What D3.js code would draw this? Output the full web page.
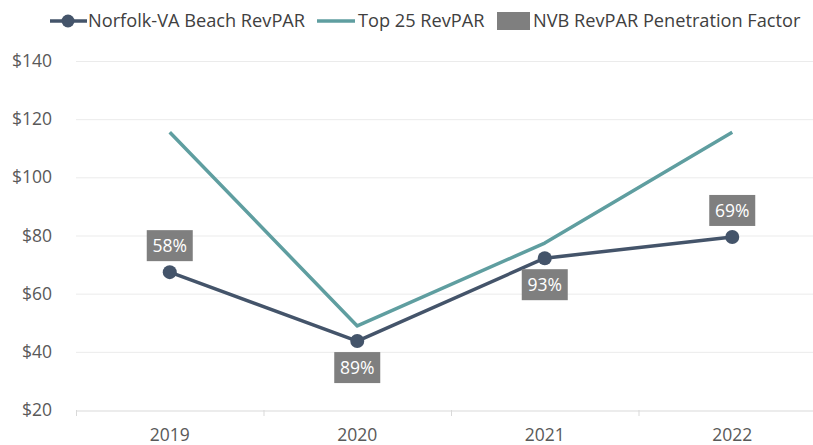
<!DOCTYPE html>
<html><head><meta charset="utf-8">
<script src="https://cdn.jsdelivr.net/npm/d3@7"></script>
<style>body{margin:0;background:#fff}svg{display:block}text{font-family:"Open Sans",sans-serif}</style>
</head><body><svg id="c" width="813" height="445"></svg>
<script>
const years = ["2019","2020","2021","2022"];
const norfolk = [67.4, 43.7, 72.2, 79.5];
const top25 = [115.5, 48.9, 77.4, 115.5];
const penetration = ["58%","89%","93%","69%"];
const labelPos = ["above","below","below","above"];
const yTicks = [20,40,60,80,100,120,140];

const svg = d3.select("#c");
const x = d3.scaleBand().domain(years).range([76, 826]);
const y = d3.scaleLinear().domain([20,140]).range([410, 61]);
const cx = d => x(d) + x.bandwidth()/2;

// grid
svg.append("g").selectAll("line").data(yTicks.filter(t=>t>20)).join("line")
  .attr("x1",76).attr("x2",813).attr("y1",d=>y(d)+0.5).attr("y2",d=>y(d)+0.5)
  .attr("stroke","#ebebeb").attr("stroke-width",1);
// y labels
svg.append("g").selectAll("text").data(yTicks).join("text")
  .attr("x",52).attr("y",d=>y(d)).attr("dy","0.35em").attr("text-anchor","end")
  .attr("font-size",17.5).attr("fill","#595959").text(d=>"$"+d);
// x axis
const xa = svg.append("g").attr("transform","translate(0,410.5)")
  .call(d3.axisBottom(x).tickSize(0).tickPadding(18));
xa.select(".domain").attr("stroke","#d9d9d9");
xa.selectAll("text").attr("font-size",17.5).attr("fill","#595959").attr("font-family","Open Sans, sans-serif");
svg.append("g").selectAll("line").data([0,1,2,3]).join("line")
  .attr("x1",i=>x.range()[0]+i*x.bandwidth()+0.5).attr("x2",i=>x.range()[0]+i*x.bandwidth()+0.5)
  .attr("y1",410).attr("y2",416).attr("stroke","#d9d9d9");

const line = d3.line().x((d,i)=>cx(years[i])).y(d=>y(d));
svg.append("path").datum(top25).attr("d",line).attr("fill","none")
  .attr("stroke","#5f9ea0").attr("stroke-width",3.5).attr("stroke-linejoin","round");
svg.append("path").datum(norfolk).attr("d",line).attr("fill","none")
  .attr("stroke","#44546a").attr("stroke-width",3.5).attr("stroke-linejoin","round");
svg.append("g").selectAll("circle").data(norfolk).join("circle")
  .attr("cx",(d,i)=>cx(years[i])).attr("cy",d=>y(d)).attr("r",7).attr("fill","#44546a");

// labels
const lg = svg.append("g").selectAll("g").data(norfolk).join("g")
  .attr("transform",(d,i)=>{
    const px = cx(years[i]), py = y(d);
    const ty = labelPos[i]==="above" ? py-42 : py+11;
    return `translate(${px-23},${ty})`;
  });
lg.append("rect").attr("width",46).attr("height",31).attr("fill","#7f7f7f");
lg.append("text").attr("x",23).attr("y",16).attr("dy","0.35em").attr("text-anchor","middle")
  .attr("font-size",17.5).attr("fill","#fff").text((d,i)=>penetration[i]);

// legend
const leg = svg.append("g");
leg.append("line").attr("x1",50).attr("x2",87).attr("y1",21).attr("y2",21).attr("stroke","#44546a").attr("stroke-width",3.5);
leg.append("circle").attr("cx",68).attr("cy",21).attr("r",6.5).attr("fill","#44546a");
leg.append("text").attr("x",88).attr("y",21).attr("dy","0.35em").attr("font-size",18.2).attr("fill","#404040").text("Norfolk-VA Beach RevPAR");
leg.append("line").attr("x1",317).attr("x2",355).attr("y1",21).attr("y2",21).attr("stroke","#5f9ea0").attr("stroke-width",3.5);
leg.append("text").attr("x",358).attr("y",21).attr("dy","0.35em").attr("font-size",18.2).attr("fill","#404040").text("Top 25 RevPAR");
leg.append("rect").attr("x",497).attr("y",12).attr("width",33).attr("height",18).attr("fill","#7f7f7f");
leg.append("text").attr("x",533).attr("y",21).attr("dy","0.35em").attr("font-size",18.2).attr("fill","#404040").text("NVB RevPAR Penetration Factor");
</script></body></html>
